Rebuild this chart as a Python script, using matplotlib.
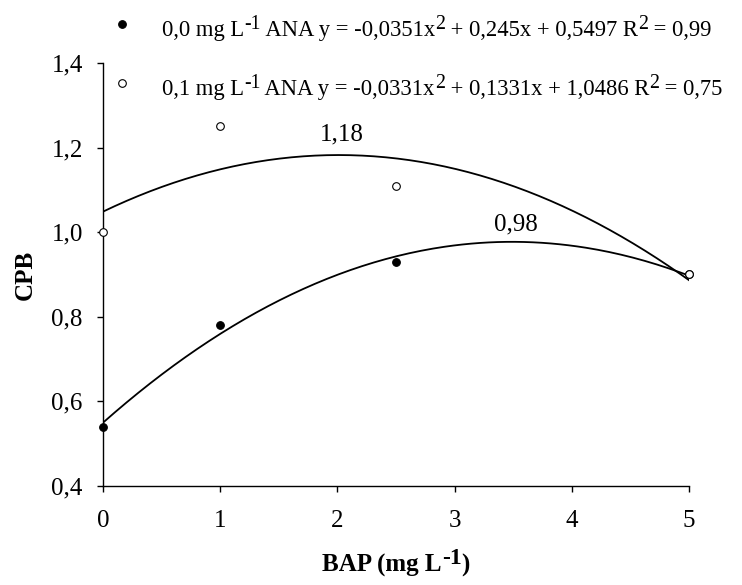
import numpy as np
import matplotlib
matplotlib.use("Agg")
import matplotlib.pyplot as plt

plt.rcParams["font.family"] = ["Liberation Serif", "DejaVu Serif"]
plt.rcParams["mathtext.fontset"] = "custom"
plt.rcParams["mathtext.rm"] = "Liberation Serif"
plt.rcParams["mathtext.bf"] = "Liberation Serif:bold"

# data
bap = [0, 1, 2.5, 5]
cpb_ana0 = [0.54, 0.78, 0.93, 0.90]
cpb_ana01 = [1.00, 1.25, 1.11, 0.90]
coef_ana0 = [-0.0351, 0.245, 0.5497]
coef_ana01 = [-0.0331, 0.1331, 1.0486]
# legend labels split in (text, superscript?) pieces
labels = [
    [("0,0 mg L", False), ("-1", True), (" ANA y = -0,0351x", False), ("2", True),
     (" + 0,245x + 0,5497 R", False), ("2", True), (" = 0,99", False)],
    [("0,1 mg L", False), ("-1", True), (" ANA y = -0,0331x", False), ("2", True),
     (" + 0,1331x + 1,0486 R", False), ("2", True), (" = 0,75", False)],
]
xlabel_parts = [("BAP (mg L", False), ("-1", True), (")", False)]
peak_labels = ["1,18", "0,98"]
peak_pos = [(2.04, 1.216), (3.52, 1.003)]


def rich_text(fig, x_px, y_px, parts, size, sup_scale=0.88, center=False, **kw):
    renderer = fig.canvas.get_renderer()
    W, H = fig.bbox.width, fig.bbox.height
    texts = []
    x0 = x_px
    for s, sup in parts:
        fs = size * sup_scale if sup else size
        dy = size * 0.45 if sup else 0
        t = fig.text(x_px / W, 1 - (y_px - dy) / H, s, fontsize=fs, ha="left", va="baseline", **kw)
        texts.append(t)
        x_px = t.get_window_extent(renderer).x1
    if center:
        shift = (x_px - x0) / 2 / W
        for t in texts:
            px, py = t.get_position()
            t.set_position((px - shift, py))


fig = plt.figure(figsize=(7.42, 5.85), dpi=100)
ax = fig.add_axes([103 / 742, 1 - 486 / 585, 586 / 742, 423 / 585])

xs = np.linspace(0, 5, 200)
ax.plot(xs, np.polyval(coef_ana01, xs), color="black", lw=1.3)
ax.plot(xs, np.polyval(coef_ana0, xs), color="black", lw=1.3)
ax.plot(bap, cpb_ana0, "o", ms=5.5, mfc="black", mec="black", mew=0.8, clip_on=False, zorder=5)
ax.plot(bap, cpb_ana01, "o", ms=5.5, mfc="white", mec="black", mew=0.8, clip_on=False, zorder=5)

for txt, (px, py) in zip(peak_labels, peak_pos):
    ax.text(px, py, txt, fontsize=18, ha="center", va="baseline")

ax.set_xlim(0, 5)
ax.set_ylim(0.4, 1.4)
ax.set_xticks([0, 1, 2, 3, 4, 5])
ax.set_yticks([0.4, 0.6, 0.8, 1.0, 1.2, 1.4])
ax.set_yticklabels(["0,4", "0,6", "0,8", "1,0", "1,2", "1,4"])
ax.tick_params(labelsize=18, direction="out", length=4.5, width=1, pad=10)
ax.tick_params(axis="x", pad=13)
for side in ("top", "right"):
    ax.spines[side].set_visible(False)
for side in ("left", "bottom"):
    ax.spines[side].set_linewidth(1)

ax.set_ylabel("CPB", fontsize=18, fontweight="bold")
ax.yaxis.set_label_coords(-0.113, 0.5)
rich_text(fig, 396, 572, xlabel_parts, 18, sup_scale=0.95, center=True, fontweight="bold")

# legend drawn by hand in figure pixels
legend_y = [(24, 36), (83, 95)]
for (my, ty), parts, fc in zip(legend_y, labels, ["black", "white"]):
    fig.add_artist(plt.Line2D([122 / 742], [1 - my / 585], ls="none", marker="o", ms=5.5,
                              mfc=fc, mec="black", mew=0.8, transform=fig.transFigure))
    rich_text(fig, 162, ty, parts, 16.3)

fig.savefig("out.png", dpi=100)
